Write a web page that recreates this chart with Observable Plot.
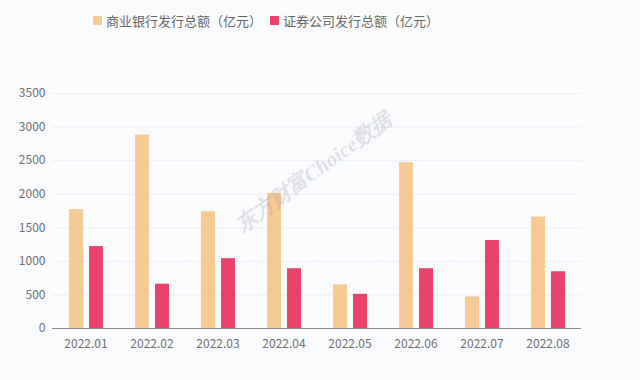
<!DOCTYPE html>
<html>
<head>
<meta charset="utf-8">
<script src="https://cdn.jsdelivr.net/npm/d3@7"></script>
<script src="https://cdn.jsdelivr.net/npm/@observablehq/plot@0.6"></script>
<style>
  html, body { margin: 0; padding: 0; background: #f9fbfd; }
  #wrap { position: relative; width: 640px; height: 380px; overflow: hidden; font-family: "Noto Sans CJK SC", "Noto Sans", sans-serif; }
  #legend { height: 40px; display: flex; align-items: center; padding-left: 93px; box-sizing: border-box; font-size: 13px; color: #666; }
  .item { display: flex; align-items: center; margin-right: 8px; }
  .sw { width: 9px; height: 9px; margin-right: 4px; }
  #wm { position: absolute; left: 220px; top: 158px; transform: rotate(-36deg); transform-origin: center; font-family: "Liberation Serif", serif; font-style: italic; font-weight: bold; font-size: 21px; color: rgba(150,150,160,0.25); white-space: nowrap; pointer-events: none; }
</style>
</head>
<body>
<div id="wrap">
  <div id="legend"></div>
  <div id="chart"></div>
  <div id="wm">东方财富Choice数据</div>
</div>
<script>
const months = ["2022.01", "2022.02", "2022.03", "2022.04", "2022.05", "2022.06", "2022.07", "2022.08"];
const seriesNames = ["商业银行发行总额（亿元）", "证券公司发行总额（亿元）"];
const bankValues = [1770, 2880, 1740, 2010, 650, 2470, 470, 1660];
const brokerValues = [1220, 660, 1040, 890, 510, 890, 1310, 845];
const yTicks = [0, 500, 1000, 1500, 2000, 2500, 3000, 3500];
const colors = ["#f7c994", "#e9436b"];

const data = months.flatMap((m, i) => [
  {month: m, series: seriesNames[0], value: bankValues[i]},
  {month: m, series: seriesNames[1], value: brokerValues[i]}
]);

const legend = document.getElementById("legend");
seriesNames.forEach((s, i) => {
  const it = document.createElement("div");
  it.className = "item";
  it.innerHTML = `<span class="sw" style="background:${colors[i]}"></span><span>${s}</span>`;
  legend.appendChild(it);
});

const chart = Plot.plot({
  width: 640,
  height: 340,
  marginTop: 53,
  marginBottom: 52,
  marginLeft: 65,
  marginRight: 73,
  style: {background: "transparent", fontFamily: "'Noto Sans CJK SC', 'Noto Sans', sans-serif", fontSize: "12px", color: "#707070"},
  fx: {domain: months, padding: 0.47, label: null, axis: "bottom", tickSize: 0, tickPadding: 11},
  x: {domain: seriesNames, axis: null, paddingInner: 0.3, paddingOuter: 0},
  y: {domain: [0, 3500], ticks: yTicks, tickFormat: "d", label: null, tickSize: 0, tickPadding: 23},
  color: {domain: seriesNames, range: colors},
  marks: [
    Plot.ruleY(yTicks.slice(1), {stroke: "#eceef4", insetLeft: -16, insetRight: -16}),
    Plot.barY(data, {fx: "month", x: "series", y: "value", fill: "series"}),
    Plot.ruleY([0], {stroke: "#8e8494", strokeWidth: 1.2, insetLeft: -16, insetRight: -16})
  ]
});
document.getElementById("chart").appendChild(chart);
</script>
</body>
</html>
